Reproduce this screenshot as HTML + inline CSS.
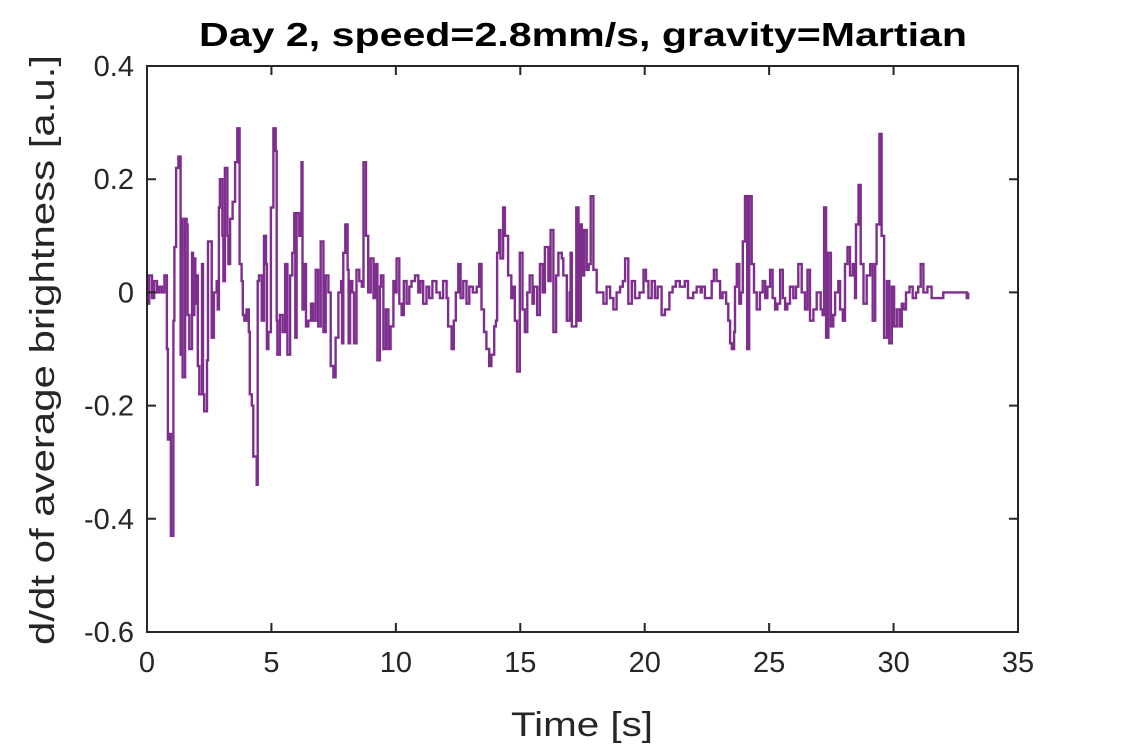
<!DOCTYPE html>
<html><head><meta charset="utf-8"><style>
html,body{margin:0;padding:0;background:#fff;}
svg{display:block;font-family:"Liberation Sans",Arial,sans-serif;}
</style></head><body>
<svg id="chart" width="1125" height="750" viewBox="0 0 1125 750" xmlns="http://www.w3.org/2000/svg">
<rect x="0" y="0" width="1125" height="750" fill="#fff"/>
<text x="583" y="46" text-anchor="middle" font-size="33" font-weight="bold" fill="#000" textLength="768" lengthAdjust="spacingAndGlyphs">Day 2, speed=2.8mm/s, gravity=Martian</text>
<g id="plot"></g>
<text x="582" y="736" text-anchor="middle" font-size="34" fill="#262626" textLength="142" lengthAdjust="spacingAndGlyphs">Time [s]</text>
<text transform="translate(54,350) rotate(-90)" text-anchor="middle" font-size="34" fill="#262626" textLength="590" lengthAdjust="spacingAndGlyphs">d/dt of average brightness [a.u.]</text>
</svg>
<script>
const xTicks=[0,5,10,15,20,25,30,35];
const yTicks=[-0.6,-0.4,-0.2,0,0.2,0.4];
const yTickLabels=["-0.6","-0.4","-0.2","0","0.2","0.4"];
const times=[0,0.04,0.09,0.2,0.29,0.4,0.5,0.6,0.7,0.8,0.84,0.9,0.96,1.06,1.1,1.17,1.26,1.35,1.39,1.43,1.53,1.59,1.63,1.7,1.81,1.85,1.9,1.94,2.0,2.04,2.1,2.21,2.25,2.3,2.41,2.45,2.5,2.6,2.69,2.8,2.84,2.89,2.93,3.03,3.07,3.13,3.23,3.27,3.34,3.44,3.54,3.63,3.72,3.8,3.85,3.91,4.0,4.09,4.13,4.21,4.27,4.41,4.45,4.5,4.61,4.7,4.78,4.82,4.88,4.98,5.08,5.17,5.21,5.24,5.34,5.45,5.55,5.64,5.75,5.84,5.92,5.96,6.01,6.12,6.21,6.25,6.31,6.39,6.48,6.59,6.68,6.78,6.88,6.98,7.09,7.18,7.29,7.38,7.49,7.58,7.69,7.8,7.84,7.89,7.97,8.06,8.1,8.16,8.25,8.32,8.42,8.53,8.63,8.7,8.8,8.89,8.99,9.1,9.19,9.26,9.36,9.4,9.5,9.6,9.7,9.79,9.9,9.96,10.03,10.14,10.23,10.32,10.43,10.54,10.63,10.77,10.9,10.99,11.1,11.23,11.34,11.47,11.63,11.77,11.9,12.04,12.1,12.24,12.33,12.41,12.51,12.6,12.71,12.84,12.95,13.09,13.25,13.35,13.44,13.54,13.64,13.75,13.84,13.95,14.02,14.07,14.15,14.2,14.31,14.38,14.51,14.64,14.71,14.78,14.87,14.98,15.09,15.18,15.28,15.38,15.49,15.55,15.68,15.79,15.9,15.99,16.13,16.22,16.33,16.44,16.53,16.67,16.73,16.87,16.98,17.02,17.07,17.14,17.25,17.34,17.43,17.47,17.57,17.67,17.75,17.83,17.94,18.07,18.2,18.34,18.47,18.61,18.74,18.87,19.01,19.12,19.21,19.34,19.48,19.61,19.79,19.95,20.05,20.15,20.28,20.41,20.52,20.68,20.81,20.99,21.12,21.25,21.41,21.61,21.74,21.95,22.09,22.25,22.29,22.42,22.56,22.69,22.78,22.89,23.03,23.13,23.27,23.36,23.43,23.5,23.59,23.63,23.7,23.8,23.87,23.94,24.03,24.12,24.2,24.3,24.39,24.5,24.63,24.74,24.84,24.93,25.04,25.14,25.24,25.33,25.44,25.55,25.64,25.73,25.84,25.97,26.08,26.17,26.31,26.44,26.54,26.64,26.78,26.91,27.07,27.15,27.21,27.29,27.38,27.48,27.58,27.65,27.78,27.85,27.96,28.05,28.15,28.25,28.36,28.45,28.49,28.59,28.68,28.79,28.92,29.06,29.16,29.26,29.32,29.43,29.52,29.62,29.73,29.83,29.93,30.02,30.13,30.24,30.33,30.4,30.5,30.64,30.77,30.9,30.99,31.09,31.2,31.36,31.53,31.73,32.0,32.27,32.54,32.74,32.94,33.0];
const values=[0.02,-0.02,0.03,-0.01,0.02,0.0,0.01,0.0,0.03,-0.1,-0.26,-0.25,-0.43,-0.05,0.08,0.22,0.24,-0.11,0.13,-0.15,0.13,0.12,-0.04,-0.1,0.07,-0.04,0.06,-0.02,0.03,-0.13,-0.18,0.05,-0.18,-0.21,-0.12,0.09,0.09,-0.08,0.0,0.02,-0.03,0.15,0.2,0.1,0.02,0.22,0.1,0.05,0.13,0.16,0.23,0.29,0.05,0.02,-0.04,-0.05,-0.03,-0.07,-0.18,-0.2,-0.29,-0.34,0.02,0.03,-0.05,0.1,0.05,-0.1,-0.07,0.15,0.29,0.25,-0.05,-0.11,-0.04,-0.07,0.05,-0.11,0.03,0.07,0.14,-0.08,0.14,0.1,0.23,-0.03,0.05,-0.06,-0.05,-0.02,-0.05,0.04,-0.06,0.09,-0.07,0.03,0.0,-0.13,-0.15,-0.08,0.0,0.02,-0.09,0.07,0.12,0.04,-0.09,0.02,0.0,-0.09,0.04,0.02,0.01,0.23,0.1,0.0,0.06,-0.01,0.05,-0.12,0.01,0.03,-0.1,-0.03,-0.1,-0.06,0.02,0.0,0.06,-0.02,-0.04,0.02,-0.02,0.01,0.02,0.03,0.0,0.02,-0.02,0.01,-0.01,0.02,0.0,-0.01,0.02,-0.01,-0.06,-0.1,-0.05,0.0,0.05,-0.01,0.02,-0.02,0.01,0.0,0.01,0.05,-0.03,-0.07,-0.1,-0.13,-0.11,-0.06,-0.05,0.07,0.11,0.06,0.15,0.1,0.03,-0.01,0.01,-0.05,-0.14,0.07,-0.03,-0.07,0.0,0.03,-0.02,0.01,-0.04,0.05,0.0,0.08,0.02,0.11,-0.07,0.03,0.07,0.06,0.03,-0.05,0.0,0.07,-0.06,-0.06,0.15,-0.05,0.12,0.03,0.11,0.04,0.05,0.17,0.04,0.0,0.0,-0.02,0.01,-0.01,-0.03,0.0,0.01,0.02,0.06,-0.02,0.02,-0.01,0.0,0.04,0.02,-0.01,0.02,-0.01,0.01,-0.04,-0.03,0.0,0.01,0.02,0.01,0.02,-0.01,0.0,0.01,0.0,0.01,-0.01,-0.01,0.02,0.04,0.02,-0.01,0.0,-0.02,-0.05,-0.09,-0.1,-0.07,0.01,0.05,-0.02,0.0,0.09,0.17,-0.1,0.17,0.05,0.0,-0.03,0.0,0.02,-0.01,0.01,0.04,-0.01,-0.03,-0.02,0.04,-0.01,-0.03,-0.02,0.01,-0.01,0.01,0.05,0.0,-0.03,0.04,-0.05,-0.03,0.0,-0.03,-0.04,0.15,-0.08,0.07,-0.06,-0.04,0.0,0.02,-0.03,-0.05,0.05,0.08,0.03,0.05,-0.01,0.12,0.19,0.05,-0.02,0.03,0.05,-0.05,0.05,0.12,0.28,0.1,-0.08,0.02,-0.09,0.01,-0.06,-0.03,-0.06,-0.02,-0.03,0.0,0.01,-0.01,0.0,0.01,0.05,0.0,0.01,-0.01,-0.01,0.0,0.0,0.0,0.0,-0.01,0.0,0.005];

const NS="http://www.w3.org/2000/svg";
const L=147,R=1018,T=66,B=632;
const xMin=0,xMax=35,yMin=-0.6,yMax=0.4;
function xs(t){return L+(t-xMin)/(xMax-xMin)*(R-L);}
function ys(v){return B-(v-yMin)/(yMax-yMin)*(B-T);}
const plot=document.getElementById('plot');
function mk(tag,attrs){const e=document.createElementNS(NS,tag);for(const k in attrs)e.setAttribute(k,attrs[k]);return e;}

// series (stair-step like the sampled signal)
let d='';
for(let i=0;i<times.length;i++){
  const x=xs(times[i]).toFixed(1), y=ys(values[i]).toFixed(1);
  if(i===0){d+='M'+x+','+y;}
  else{d+='H'+x+'V'+y;}
}
const line=mk('path',{d:d,fill:'none',stroke:'#7E2F8E','stroke-width':'2.4','stroke-linejoin':'miter'});


plot.appendChild(line);

// box
const box=mk('rect',{x:L,y:T,width:R-L,height:B-T,fill:'none',stroke:'#262626','stroke-width':'2'});


plot.appendChild(box);

xTicks.forEach((t,i)=>{
  const x=xs(t);
  const tk=mk('path',{d:`M${x},${B}V${B-9}M${x},${T}V${T+9}`,stroke:'#262626','stroke-width':'2'});
  
  
  plot.appendChild(tk);
  const lb=mk('text',{x:x,y:B+40,'text-anchor':'middle','font-size':'29',fill:'#262626'});
  lb.textContent=String(t);
  
  
  plot.appendChild(lb);
});
yTicks.forEach((v,i)=>{
  const y=ys(v);
  const tk=mk('path',{d:`M${L},${y}H${L+9}M${R},${y}H${R-9}`,stroke:'#262626','stroke-width':'2'});
  
  
  plot.appendChild(tk);
  const lb=mk('text',{x:L-13,y:y+10,'text-anchor':'end','font-size':'29',fill:'#262626'});
  lb.textContent=yTickLabels[i];
  
  
  plot.appendChild(lb);
});
</script>
</body></html>
